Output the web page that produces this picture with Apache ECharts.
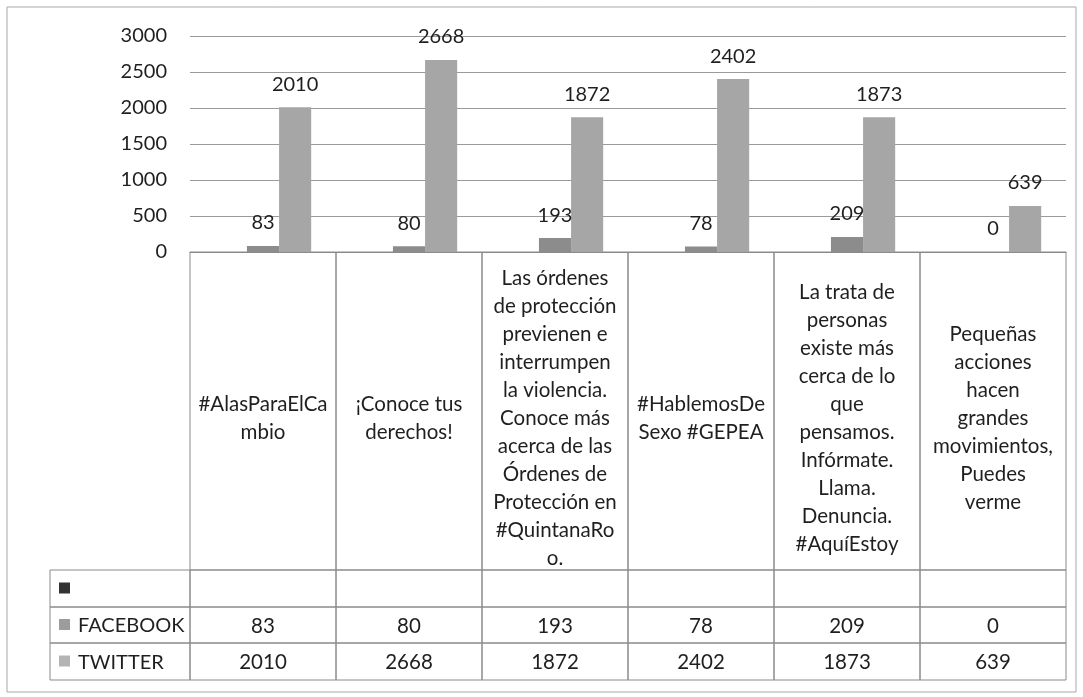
<!DOCTYPE html>
<html>
<head>
<meta charset="utf-8">
<script src="https://cdn.jsdelivr.net/npm/echarts@6/dist/echarts.min.js"></script>
<style>
  html, body { margin: 0; padding: 0; background: #fff; }
  #chart { width: 1083px; height: 697px; }
</style>
</head>
<body>
<div id="chart"></div>
<script>
// data
const categories = [
    '#AlasParaElCa\nmbio',
    '¡Conoce tus\nderechos!',
    'Las órdenes\nde protección\nprevienen e\ninterrumpen\nla violencia.\nConoce más\nacerca de las\nÓrdenes de\nProtección en\n#QuintanaRo\no.',
    '#HablemosDe\nSexo #GEPEA',
    'La trata de\npersonas\nexiste más\ncerca de lo\nque\npensamos.\nInfórmate.\nLlama.\nDenuncia.\n#AquíEstoy',
    'Pequeñas\nacciones\nhacen\ngrandes\nmovimientos,\nPuedes\nverme'
];
const seriesNames = ['', 'FACEBOOK', 'TWITTER'];
const blankValues = ['-', '-', '-', '-', '-', '-'];
const facebookValues = [83, 80, 193, 78, 209, 0];
const twitterValues = [2010, 2668, 1872, 2402, 1873, 639];
const yMin = 0, yMax = 3000, yStep = 500;

// styles
const FONT = 'Lato, "Open Sans", sans-serif';
const TXT = '#1f1f1f';
const BORDER = '#8a8a8a';
const colors = ['#333333', '#8c8c8c', '#a6a6a6'];
const keyColors = ['#333333', '#9c9c9c', '#b4b4b4'];

// ── Table cell renderer ──────────────────────────────────────────────────────
function cellRenderer(texts, legendIdx) {
    return (params, api) => {
        const i = api.value(0);
        const w = api.size([1, 0])[0];
        const x0 = api.coord([i, 0])[0] - w / 2;
        const cs = params.coordSys;
        const children = [
            { type: 'rect', shape: { x: x0, y: cs.y, width: w, height: cs.height },
              style: { fill: 'none', stroke: BORDER, lineWidth: 1 } },
            { type: 'text',
              style: { text: String(texts[params.dataIndex]), x: x0 + w / 2,
                       y: cs.y + cs.height / 2 + (legendIdx == null ? 7 : 1),
                       align: 'center', verticalAlign: 'middle', lineHeight: 28,
                       font: '20.5px ' + FONT, fill: TXT } }
        ];
        if (legendIdx != null && params.dataIndex === 0) {
            const lx = 50;
            children.push(
                { type: 'rect', shape: { x: lx, y: cs.y, width: cs.x - lx, height: cs.height },
                  style: { fill: 'none', stroke: BORDER, lineWidth: 1 } },
                { type: 'rect', shape: { x: lx + 9, y: cs.y + cs.height / 2 - 6, width: 11, height: 11 },
                  style: { fill: keyColors[legendIdx] } },
                { type: 'text',
                  style: { text: seriesNames[legendIdx], x: lx + 28, y: cs.y + cs.height / 2 + 1,
                           align: 'left', verticalAlign: 'middle', font: '20px ' + FONT, fill: TXT } }
            );
        }
        return { type: 'group', children };
    };
}

const rowGrids = [
    { top: 252, height: 318 },
    { top: 570, height: 37 },
    { top: 607, height: 36 },
    { top: 643, height: 37 }
];
const rowTexts = [
    categories,
    blankValues.map(() => ''),
    facebookValues,
    twitterValues
];

const grids = [{ left: 190, right: 17, top: 36, height: 216 }]
    .concat(rowGrids.map(g => ({ left: 190, right: 17, top: g.top, height: g.height })));

const xAxes = grids.map((g, k) => ({
    type: 'category', gridIndex: k, data: categories,
    axisLabel: { show: false }, axisTick: { show: false },
    axisLine: { show: k === 0, lineStyle: { color: BORDER } }
}));

const yAxes = [{
    type: 'value', gridIndex: 0, min: yMin, max: yMax, interval: yStep,
    axisLine: { show: false }, axisTick: { show: false },
    axisLabel: { color: TXT, fontSize: 20, fontFamily: FONT, margin: 23, formatter: v => String(v) },
    splitLine: { lineStyle: { color: '#9a9a9a', width: 1 } }
}].concat(rowGrids.map((g, k) => ({
    type: 'value', gridIndex: k + 1, min: 0, max: 1, show: false
})));

const barLabel = {
    show: true, position: 'top', distance: 13,
    color: TXT, fontSize: 20, fontFamily: FONT
};

const series = [
    { name: seriesNames[0], type: 'bar', data: blankValues, itemStyle: { color: colors[0] } },
    { name: seriesNames[1], type: 'bar', data: facebookValues, itemStyle: { color: colors[1] }, label: barLabel },
    { name: seriesNames[2], type: 'bar', data: twitterValues, itemStyle: { color: colors[2] }, label: barLabel }
].map(s => Object.assign(s, { barGap: '0%', barCategoryGap: '34%', xAxisIndex: 0, yAxisIndex: 0 }));

rowTexts.forEach((texts, k) => {
    series.push({
        type: 'custom',
        xAxisIndex: k + 1, yAxisIndex: k + 1,
        data: categories.map((c, i) => [i, 0]),
        renderItem: cellRenderer(texts, k === 0 ? null : k - 1),
        silent: true
    });
});

const chart = echarts.init(document.getElementById('chart'), null, { renderer: 'canvas' });
chart.setOption({
    backgroundColor: '#ffffff',
    animation: false,
    textStyle: { fontFamily: FONT },
    grid: grids,
    xAxis: xAxes,
    yAxis: yAxes,
    series: series,
    graphic: [{
        type: 'rect', shape: { x: 7, y: 7, width: 1069, height: 685 },
        style: { fill: 'none', stroke: '#a8a8a8', lineWidth: 1 }, silent: true
    }]
});
</script>
</body>
</html>
